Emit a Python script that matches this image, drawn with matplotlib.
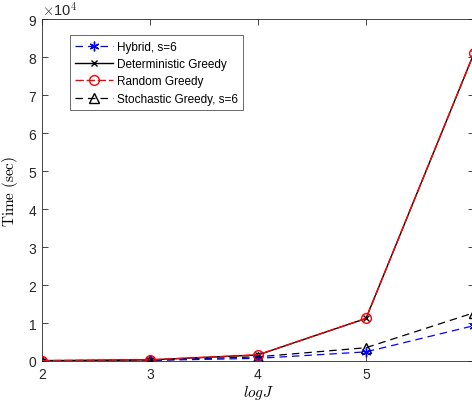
import matplotlib
matplotlib.use("Agg")
import matplotlib.pyplot as plt

plt.rcParams['font.family'] = ['Liberation Sans', 'DejaVu Sans']
plt.rcParams['mathtext.fontset'] = 'cm'

logJ = [2, 3, 4, 5, 6]
hybrid = [50, 150, 700, 2400, 9300]
deterministic = [100, 300, 1600, 11200, 81000]
random_greedy = [100, 300, 1600, 11200, 81000]
stochastic = [60, 200, 1100, 3500, 12700]
xticks = [2, 3, 4, 5, 6]
xticklabels = ['2', '3', '4', '5', '']
yticks = [0, 1, 2, 3, 4, 5, 6, 7, 8, 9]
scale = 1e4

fig = plt.figure(figsize=(4.72, 4.06), dpi=100)
ax = fig.add_axes([42/472, 1-362/406, 432/472, 342/406])

ax.plot(logJ, [v/scale for v in deterministic], '-', color='black', marker='x',
        markersize=4.5, lw=1.0, label='Deterministic Greedy', zorder=3)
ax.plot(logJ, [v/scale for v in random_greedy], '--', color='red', marker='o',
        markersize=7, mfc='none', lw=1.0, dashes=(6, 2), label='Random Greedy', zorder=4)
ax.plot(logJ, [v/scale for v in stochastic], '--', color='black', marker='^',
        markersize=6.5, mfc='none', lw=0.9, dashes=(6, 4), label='Stochastic Greedy, s=6', zorder=2)
ax.plot(logJ, [v/scale for v in hybrid], '--', color='blue', marker=(6, 2, 0),
        markersize=7, lw=0.9, mew=1.0, dashes=(6, 4), label='Hybrid, s=6', zorder=2)

ax.set_xlim(2, 6)
ax.set_ylim(0, 9)
ax.set_xticks(xticks)
ax.set_xticklabels(xticklabels)
ax.set_yticks(yticks)
ax.tick_params(direction='in', top=True, right=True, labelsize=10,
               colors='#262626', length=4, width=0.6, pad=4)
for s in ax.spines.values():
    s.set_color('#262626')
    s.set_linewidth(0.6)

ax.set_xlabel('$logJ$', fontsize=11, labelpad=2)
ax.set_ylabel(r'$\mathrm{Time\ (sec)}$', fontsize=11, labelpad=6)
ax.text(0.0, 1.003, r'$\times$10$^{4}$', transform=ax.transAxes, fontsize=10.5,
        va='bottom', ha='left', color='#262626')

handles, labels = ax.get_legend_handles_labels()
order = [3, 0, 1, 2]
leg = ax.legend([handles[i] for i in order], [labels[i] for i in order],
                loc='upper left', bbox_to_anchor=(0.065, 0.952), borderaxespad=0,
                fontsize=8.5, frameon=True, fancybox=False, edgecolor='#262626',
                handlelength=3.2, handletextpad=0.3, labelspacing=0.45,
                borderpad=0.45)
leg.get_frame().set_linewidth(0.6)

fig.savefig('out.png', dpi=100)
